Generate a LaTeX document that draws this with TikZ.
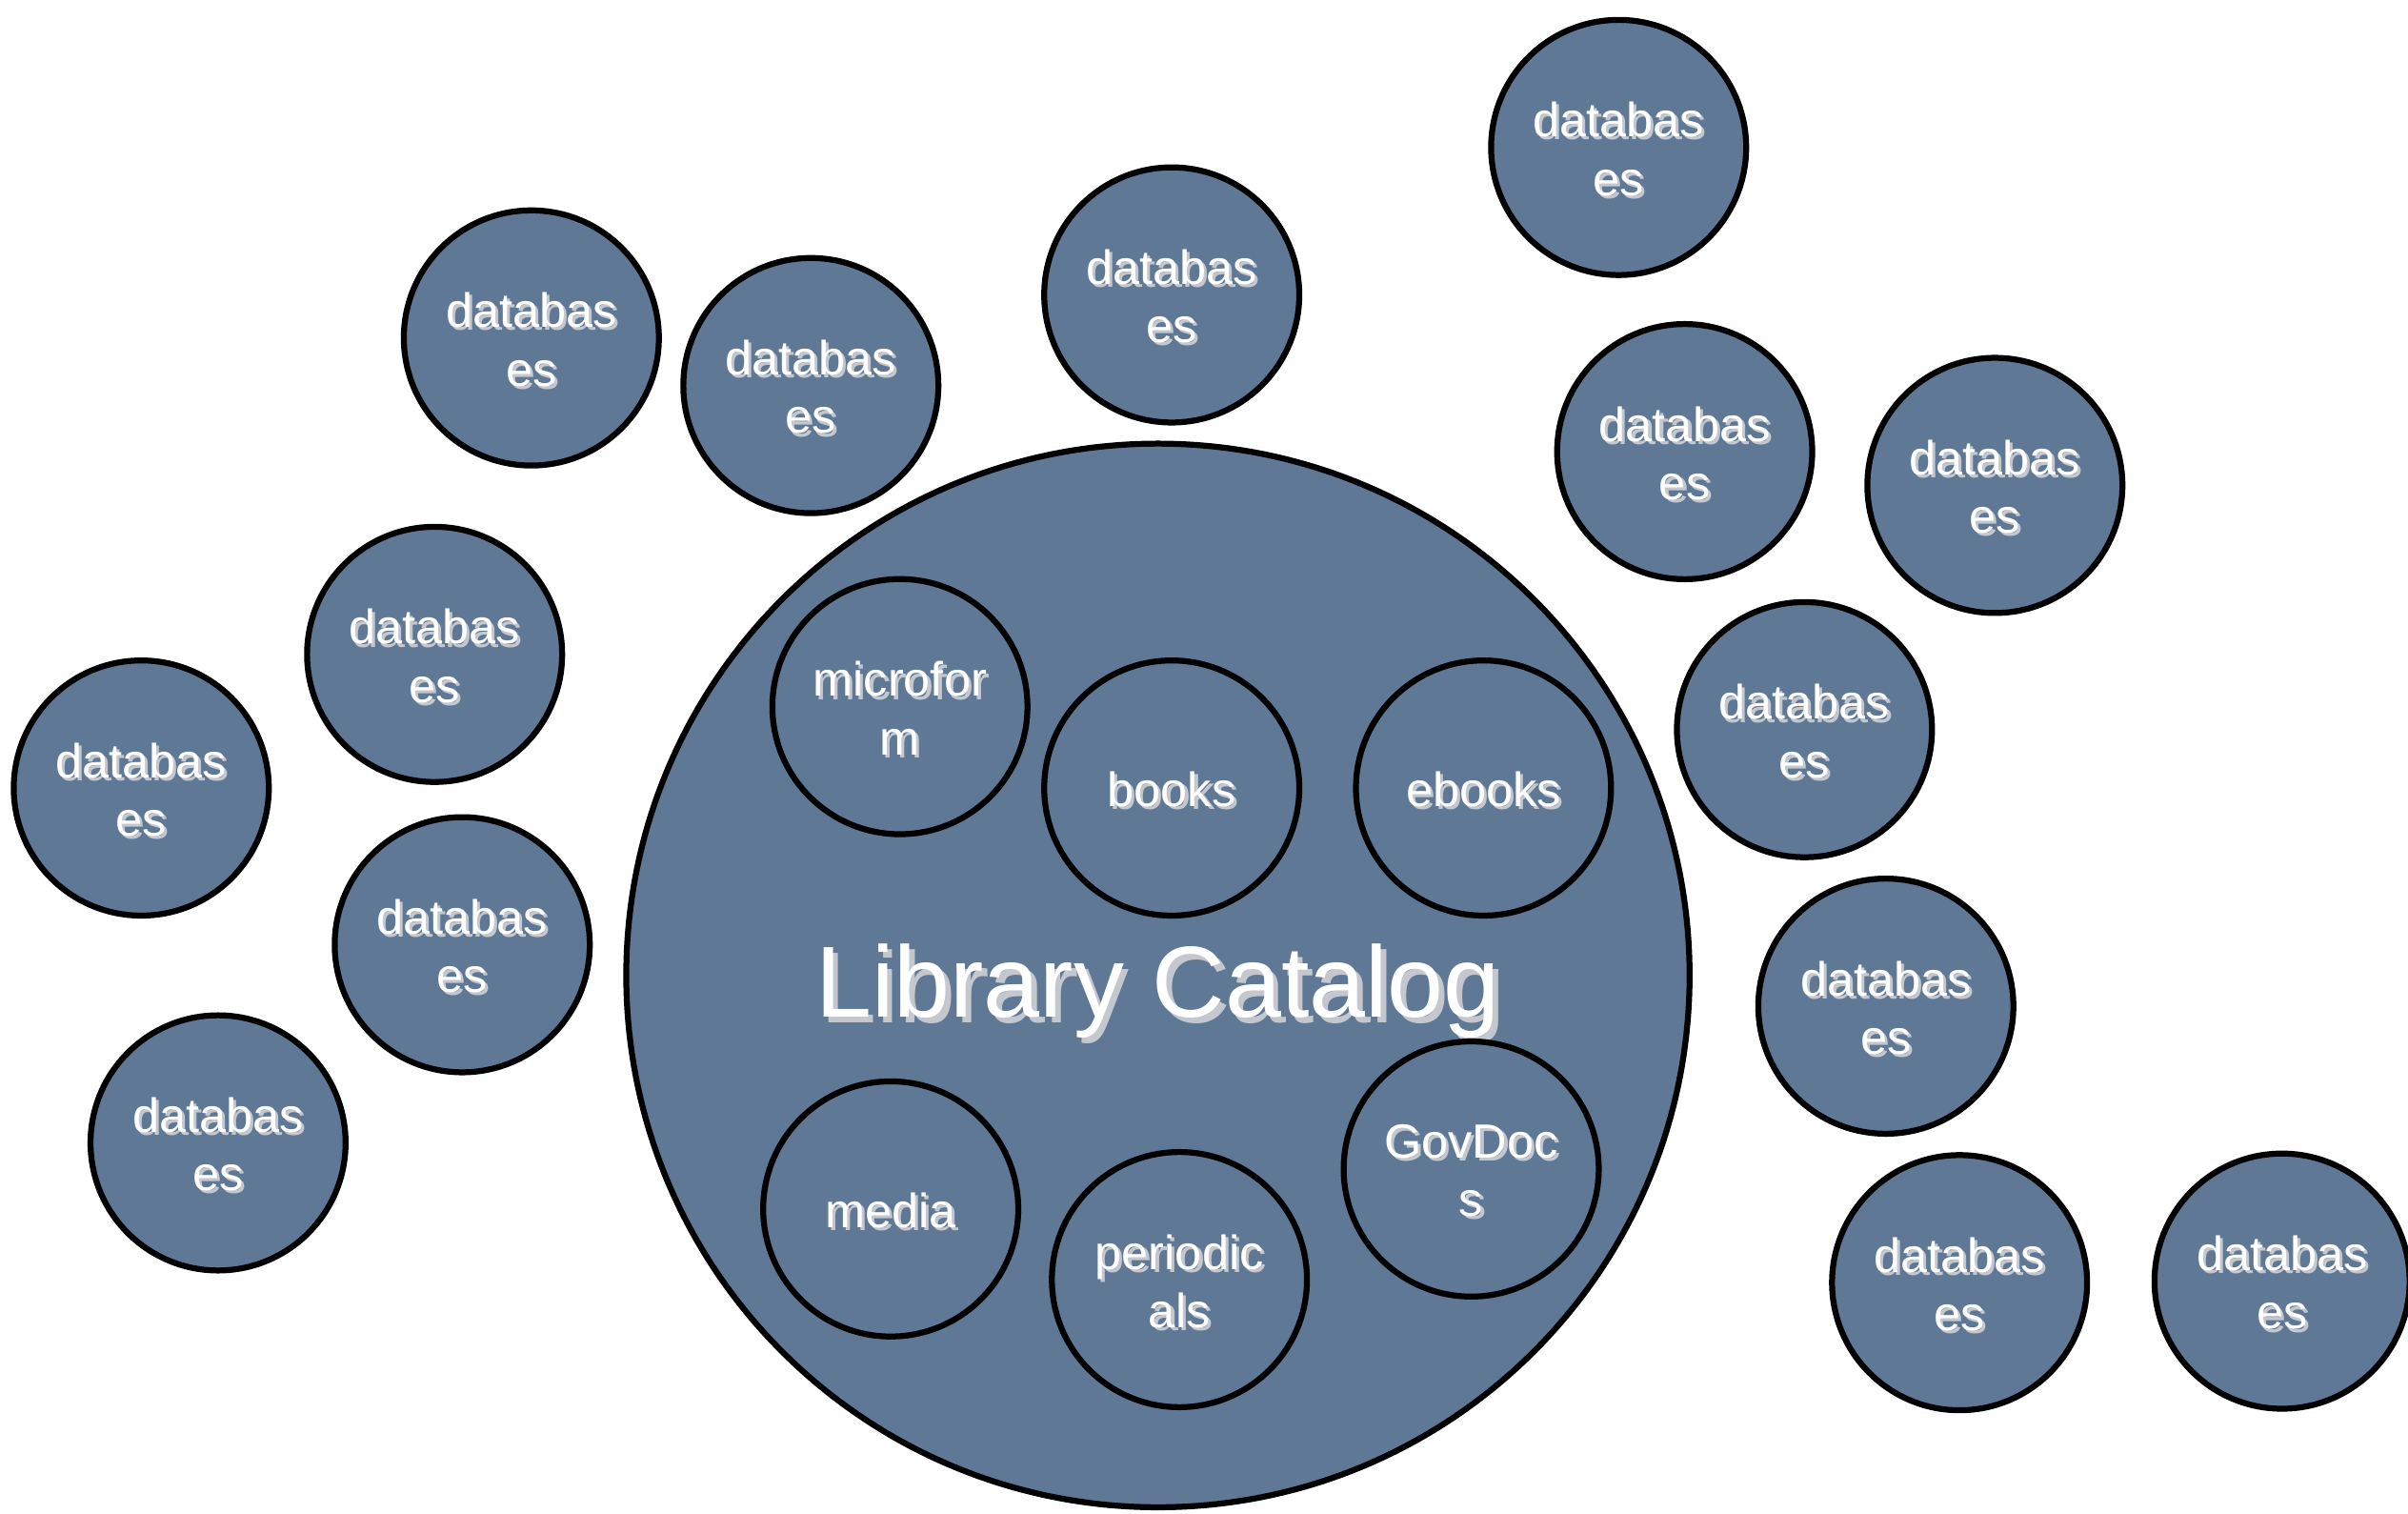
\documentclass[tikz,border=0pt]{standalone}
\usepackage{fontspec}
\setmainfont{Liberation Sans}
\definecolor{disc}{HTML}{5E7896}
\definecolor{shadowc}{HTML}{C4C8CE}
\newcommand\shtx[2][0.55pt]{\leavevmode\raisebox{-0.02cm}[\height][\depth]{\rlap{\kern#1\raisebox{-#1}{\color{shadowc}#2}}#2}}
\tikzset{
  dbcircle/.style={circle, draw=black, line width=1.1pt, fill=disc, minimum size=1.66cm, inner sep=0pt,
    text=white, align=center, font=\fontsize{8.9pt}{10.8pt}\selectfont},
  bigcircle/.style={circle, draw=black, line width=1.1pt, fill=disc, minimum size=6.92cm, inner sep=0pt}
}
\begin{document}
\begin{tikzpicture}[x=0.01cm,y=-0.01cm]
\useasboundingbox (0,0) rectangle (1568,985);
\fill[white] (0,0) rectangle (1568,985);
% big catalog circle
\node[bigcircle] (cat) at (754,635) {};
\node[text=white, font=\fontsize{18.7pt}{22pt}\selectfont] (title) at (754,645) {\shtx[1pt]{Library Catalog}};
% inner circles
\node[dbcircle] (micro) at (586,460) {\shtx{microfor}\\\shtx{m}};
\node[dbcircle] (books) at (763,513) {\shtx{books}};
\node[dbcircle] (ebooks) at (966,513) {\shtx{ebooks}};
\node[dbcircle] (media) at (580,787) {\shtx{media}};
\node[dbcircle] (period) at (768,833) {\shtx{periodic}\\\shtx{als}};
\node[dbcircle] (gov) at (958,761) {\shtx{GovDoc}\\\shtx{s}};
% database circles
\node[dbcircle] (d1) at (1054,96) {\shtx{databas}\\\shtx{es}};
\node[dbcircle] (d2) at (346,220) {\shtx{databas}\\\shtx{es}};
\node[dbcircle] (d3) at (528,251) {\shtx{databas}\\\shtx{es}};
\node[dbcircle] (d4) at (763,192) {\shtx{databas}\\\shtx{es}};
\node[dbcircle] (d5) at (1097,294) {\shtx{databas}\\\shtx{es}};
\node[dbcircle] (d6) at (1299,316) {\shtx{databas}\\\shtx{es}};
\node[dbcircle] (d7) at (283,426) {\shtx{databas}\\\shtx{es}};
\node[dbcircle] (d8) at (92,513) {\shtx{databas}\\\shtx{es}};
\node[dbcircle] (d9) at (1175,475) {\shtx{databas}\\\shtx{es}};
\node[dbcircle] (d10) at (301,615) {\shtx{databas}\\\shtx{es}};
\node[dbcircle] (d11) at (1228,655) {\shtx{databas}\\\shtx{es}};
\node[dbcircle] (d12) at (142,744) {\shtx{databas}\\\shtx{es}};
\node[dbcircle] (d13) at (1276,835) {\shtx{databas}\\\shtx{es}};
\node[dbcircle] (d14) at (1486,834) {\shtx{databas}\\\shtx{es}};
\end{tikzpicture}
\end{document}
